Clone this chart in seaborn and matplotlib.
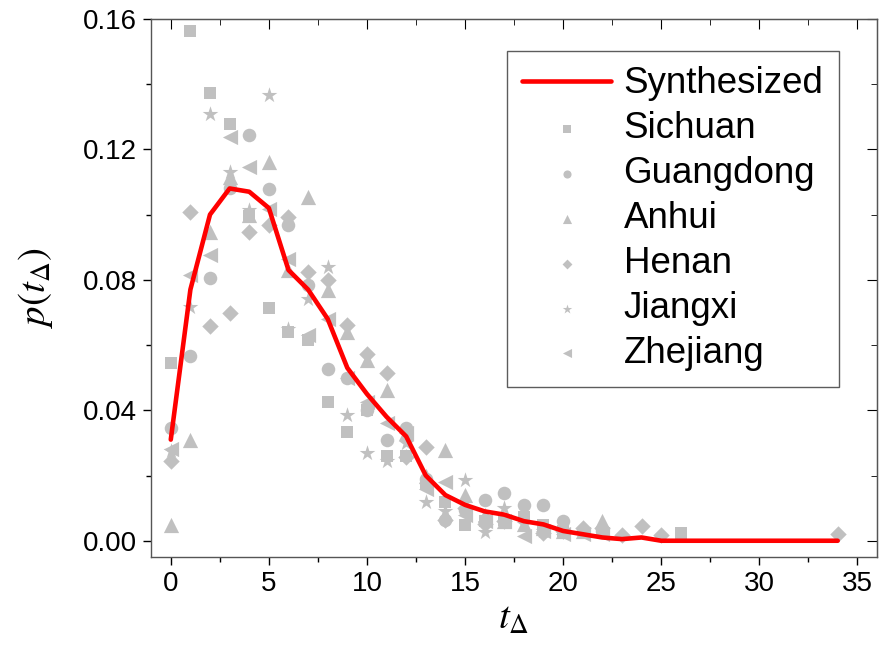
import numpy as np
import matplotlib
matplotlib.use('Agg')
import matplotlib.pyplot as plt
from matplotlib.ticker import MultipleLocator
import seaborn as sns

# synthesized curve
t_syn = list(range(0, 35))
p_syn = [0.031, 0.077, 0.100, 0.108, 0.107, 0.102, 0.083, 0.077, 0.068, 0.053,
         0.045, 0.038, 0.032, 0.020, 0.014, 0.011, 0.009, 0.008, 0.006, 0.005,
         0.003, 0.002, 0.001, 0.0005, 0.001, 0, 0, 0, 0, 0,
         0, 0, 0, 0, 0]

# provinces
sichuan_t = [0, 1, 2, 3, 4, 5, 6, 7, 8, 9, 10, 11, 12, 13, 14, 15, 16, 17, 18, 19, 20, 26]
sichuan_p = [0.0545, 0.1563, 0.1373, 0.1278, 0.0997, 0.0712, 0.064, 0.0615, 0.0426, 0.0332,
             0.040, 0.026, 0.026, 0.0177, 0.012, 0.0049, 0.006, 0.0064, 0.0074, 0.0049, 0.003, 0.0024]

guangdong_t = [0, 1, 2, 3, 4, 5, 6, 7, 8, 9, 10, 11, 12, 13, 14, 15, 16, 17, 18, 19, 20, 21, 22]
guangdong_p = [0.0347, 0.0567, 0.0804, 0.108, 0.1244, 0.1079, 0.0967, 0.0783, 0.0528, 0.0498,
               0.040, 0.031, 0.0345, 0.019, 0.0064, 0.0095, 0.0125, 0.0146, 0.011, 0.011, 0.0059, 0.003, 0.003]

anhui_t = [0, 1, 2, 3, 4, 5, 6, 7, 8, 9, 10, 11, 12, 13, 14, 15, 16, 17, 18, 19, 20, 21, 22]
anhui_p = [0.0049, 0.0309, 0.0946, 0.1114, 0.100, 0.116, 0.0829, 0.1053, 0.0768, 0.064,
           0.0554, 0.0462, 0.033, 0.0197, 0.0278, 0.014, 0.008, 0.006, 0.005, 0.004, 0.003, 0.003, 0.0060]

henan_t = [0, 1, 2, 3, 4, 5, 6, 7, 8, 9, 10, 11, 12, 13, 14, 15, 16, 17, 19, 20, 21, 22, 23, 24, 25, 34]
henan_p = [0.0243, 0.1007, 0.0658, 0.0698, 0.0946, 0.0967, 0.0992, 0.0824, 0.0800, 0.0661,
           0.0574, 0.0513, 0.0258, 0.0288, 0.0064, 0.010, 0.005, 0.006, 0.0024, 0.003, 0.0039,
           0.004, 0.0018, 0.0044, 0.0018, 0.0021]

jiangxi_t = [0, 1, 2, 3, 4, 5, 6, 7, 8, 9, 10, 11, 12, 13, 14, 15, 16, 17, 18, 19]
jiangxi_p = [0.0276, 0.0717, 0.1308, 0.113, 0.1013, 0.1367, 0.065, 0.0742, 0.0839, 0.0385,
             0.0268, 0.0243, 0.030, 0.012, 0.009, 0.0187, 0.0028, 0.010, 0.005, 0.003]

zhejiang_t = [0, 1, 2, 3, 4, 5, 6, 7, 8, 9, 10, 11, 12, 13, 14, 15, 16, 17, 18, 19, 20, 21, 22]
zhejiang_p = [0.028, 0.0814, 0.0875, 0.1237, 0.1147, 0.1018, 0.0865, 0.063, 0.0681, 0.050,
              0.0426, 0.036, 0.033, 0.016, 0.018, 0.008, 0.006, 0.006, 0.0015, 0.003, 0.002, 0.002, 0.002]

sns.set_style('ticks')
plt.rcParams['font.family'] = ['Liberation Sans', 'DejaVu Sans']
plt.rcParams['mathtext.fontset'] = 'stix'
for key in ('text.color', 'axes.labelcolor', 'xtick.color', 'ytick.color'):
    plt.rcParams[key] = 'black'

fig, ax = plt.subplots(figsize=(8.84, 6.5), dpi=100)
fig.subplots_adjust(left=0.171, right=0.992, bottom=0.143, top=0.971)

gray = '#c0c0c0'
sns.lineplot(x=t_syn, y=p_syn, color='#ff0000', linewidth=3.3, label='Synthesized', ax=ax, zorder=3)
series = [
    (sichuan_t, sichuan_p, 's', 80, 'Sichuan'),
    (guangdong_t, guangdong_p, 'o', 95, 'Guangdong'),
    (anhui_t, anhui_p, '^', 120, 'Anhui'),
    (henan_t, henan_p, 'D', 70, 'Henan'),
    (jiangxi_t, jiangxi_p, '*', 140, 'Jiangxi'),
    (zhejiang_t, zhejiang_p, '<', 120, 'Zhejiang'),
]
for tx, py, mk, sz, name in series:
    sns.scatterplot(x=tx, y=py, marker=mk, s=sz, color=gray, linewidth=0,
                    label=name, ax=ax, zorder=2)

ax.set_xlim(-1, 36)
ax.set_ylim(-0.005, 0.16)
ax.xaxis.set_major_locator(MultipleLocator(5))
ax.xaxis.set_minor_locator(MultipleLocator(2.5))
ax.yaxis.set_major_locator(MultipleLocator(0.04))
ax.yaxis.set_minor_locator(MultipleLocator(0.02))
ax.yaxis.set_major_formatter(matplotlib.ticker.FormatStrFormatter('%.2f'))
ax.tick_params(which='major', direction='out', length=6, width=1, labelsize=20, pad=4)
ax.tick_params(which='minor', direction='out', length=3.5, width=1)
for sp in ax.spines.values():
    sp.set_visible(True)
    sp.set_color('#555555')
    sp.set_linewidth(1)

# mirrored inward ticks on top and right
top = ax.secondary_xaxis('top')
top.xaxis.set_major_locator(MultipleLocator(5))
top.xaxis.set_minor_locator(MultipleLocator(2.5))
top.tick_params(which='major', direction='in', length=7, labeltop=False)
top.tick_params(which='minor', direction='in', length=4)
right = ax.secondary_yaxis('right')
right.yaxis.set_major_locator(MultipleLocator(0.04))
right.yaxis.set_minor_locator(MultipleLocator(0.02))
right.tick_params(which='major', direction='in', length=7, labelright=False)
right.tick_params(which='minor', direction='in', length=4)
for sec in (top, right):
    for sp in sec.spines.values():
        sp.set_color('#555555')

ax.set_xlabel(r'$t_{\Delta}$', fontsize=28, labelpad=3)
ax.set_ylabel(r'$p(t_{\Delta})$', fontsize=28, labelpad=20)

leg = ax.legend(loc='upper right', bbox_to_anchor=(0.949, 0.9215), bbox_transform=fig.transFigure,
                fontsize=26.5, frameon=True, fancybox=False, edgecolor='#333333',
                labelspacing=0.27, handlelength=2.4, handletextpad=0.35, borderpad=0.42,
                borderaxespad=0, markerscale=0.6)
leg.get_frame().set_linewidth(1)

plt.savefig('out.png', dpi=100)
plt.close()
